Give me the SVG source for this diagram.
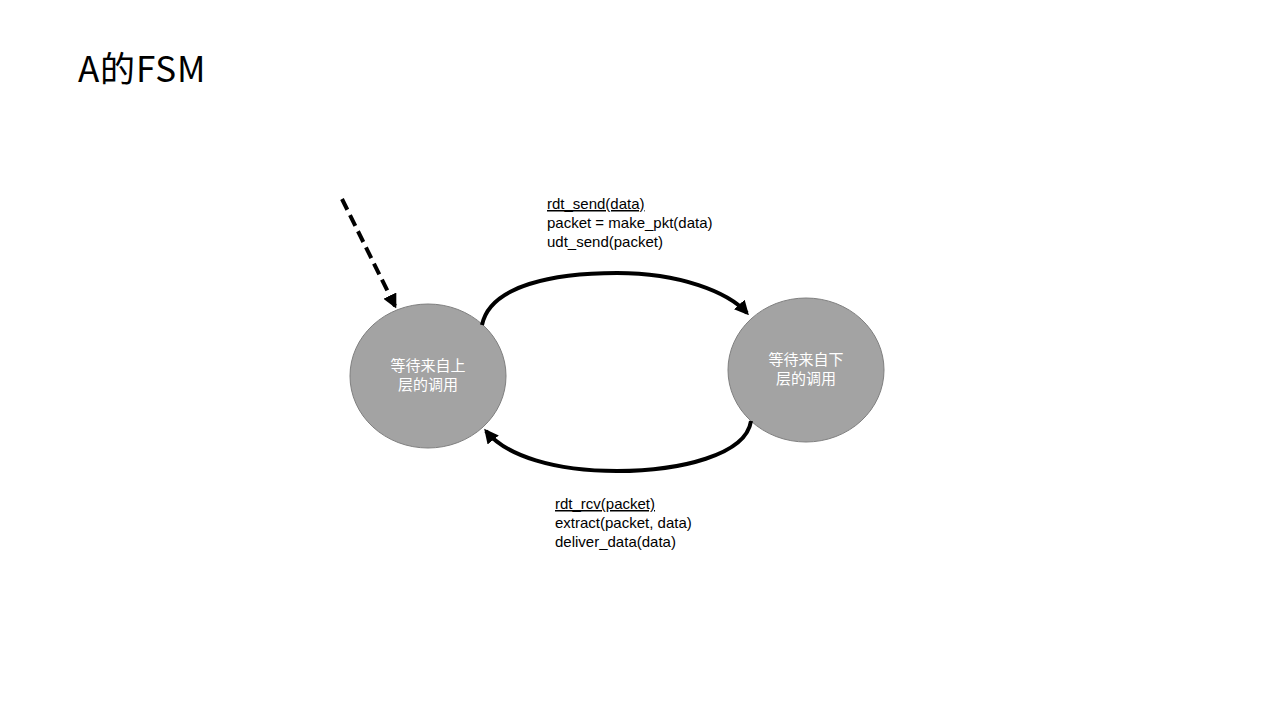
<svg xmlns="http://www.w3.org/2000/svg" width="1280" height="720" viewBox="0 0 1280 720">
<style>
.title{font-family:"Noto Sans CJK SC","Liberation Sans",sans-serif;font-size:35px;letter-spacing:0.8px;fill:#000}
.lbl{font-family:"Liberation Sans","Noto Sans CJK SC",sans-serif;font-size:15px;fill:#000}
.st{font-family:"Noto Sans CJK SC",sans-serif;font-size:15px;fill:#fff;text-anchor:middle}
.node{fill:#a3a3a3;stroke:#7f7f7f;stroke-width:1}
.edge{fill:none;stroke:#000;stroke-width:4}
</style>
<defs>
<marker id="ah" viewBox="0 0 10 10" refX="8" refY="5" markerWidth="3.6" markerHeight="3.6" orient="auto" markerUnits="strokeWidth">
<path d="M0,0 L10,5 L0,10 z" fill="#000"/>
</marker>
</defs>
<rect width="1280" height="720" fill="#fff"/>
<text class="title" x="78" y="82">A的FSM</text>
<g id="s1">
<ellipse class="node" cx="428" cy="376" rx="78" ry="72"/>
<text class="st" x="428" y="371">等待来自上</text>
<text class="st" x="428" y="390">层的调用</text>
</g>
<g id="s2">
<ellipse class="node" cx="806" cy="370" rx="78" ry="72"/>
<text class="st" x="806" y="365">等待来自下</text>
<text class="st" x="806" y="384">层的调用</text>
</g>
<g id="connectors">
<path class="edge" d="M342,199 L395,306" stroke-dasharray="12,6" marker-end="url(#ah)"/>
<path class="edge" d="M482,325 C490,285 555,273 617,273 C680,273 728,292 747,313" marker-end="url(#ah)"/>
<path class="edge" d="M751,421 C746,455 680,471 617,471 C555,471 506,456 486,431" marker-end="url(#ah)"/>
</g>
<g id="labels">
<text class="lbl" x="547" y="209" text-decoration="underline">rdt_send(data)</text>
<text class="lbl" x="547" y="228">packet = make_pkt(data)</text>
<text class="lbl" x="547" y="247">udt_send(packet)</text>
<text class="lbl" x="555" y="509" text-decoration="underline">rdt_rcv(packet)</text>
<text class="lbl" x="555" y="528">extract(packet, data)</text>
<text class="lbl" x="555" y="547">deliver_data(data)</text>
</g>
</svg>
